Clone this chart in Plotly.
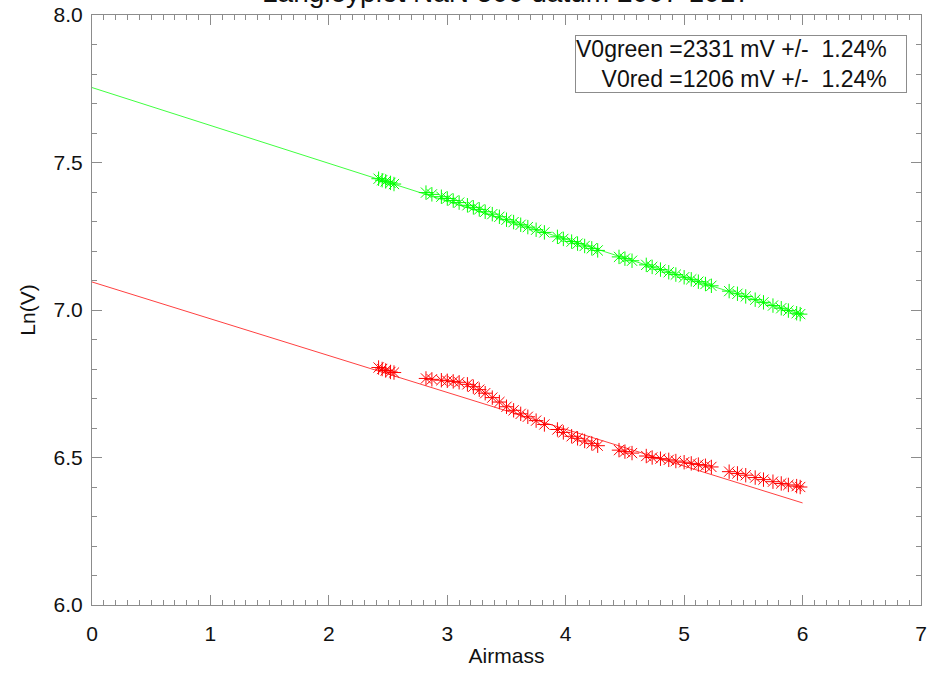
import math
import plotly.graph_objects as go

# ---- data ----
airmass = [2.42, 2.45, 2.48, 2.52, 2.55, 2.82, 2.87, 2.95, 3.00, 3.05, 3.10, 3.17, 3.22, 3.27,
           3.32, 3.38, 3.44, 3.50, 3.56, 3.62, 3.68, 3.75, 3.82, 3.93, 3.98, 4.05, 4.10, 4.16,
           4.22, 4.27, 4.45, 4.50, 4.56, 4.68, 4.73, 4.80, 4.87, 4.93, 5.00, 5.06, 5.12, 5.18,
           5.23, 5.38, 5.45, 5.52, 5.60, 5.67, 5.75, 5.82, 5.88, 5.95, 5.98]

ln_green = [7.445, 7.440, 7.436, 7.431, 7.427, 7.398, 7.392, 7.384, 7.378, 7.371, 7.364, 7.355,
            7.348, 7.341, 7.333, 7.325, 7.316, 7.306, 7.298, 7.289, 7.281, 7.272, 7.263, 7.248,
            7.241, 7.232, 7.225, 7.217, 7.209, 7.202, 7.180, 7.174, 7.167, 7.153, 7.146, 7.137,
            7.128, 7.120, 7.111, 7.104, 7.096, 7.088, 7.082, 7.064, 7.055, 7.046, 7.035, 7.026,
            7.015, 7.006, 6.998, 6.989, 6.986]

ln_red = [6.805, 6.800, 6.795, 6.790, 6.788, 6.768, 6.765, 6.762, 6.760, 6.758, 6.755, 6.748,
          6.740, 6.730, 6.718, 6.703, 6.688, 6.672, 6.660, 6.648, 6.638, 6.625, 6.612, 6.595,
          6.585, 6.572, 6.565, 6.556, 6.548, 6.540, 6.525, 6.520, 6.515, 6.505, 6.500, 6.496,
          6.492, 6.488, 6.484, 6.480, 6.476, 6.472, 6.468, 6.452, 6.446, 6.440, 6.432, 6.425,
          6.418, 6.412, 6.407, 6.403, 6.400]

fit_x = [0.0, 6.0]
v0_green = 2331
v0_red = 1206
fit_green = [math.log(v0_green), 6.983]
fit_red = [math.log(v0_red), 6.346]

title_text = "Langleyplot NaN 500 datum 2007-1017"
legend_lines = ["V0green =2331 mV +/-\u00a0\u00a01.24%\u00a0\u00a0\u00a0",
                "V0red =1206 mV +/-\u00a0\u00a01.24%\u00a0\u00a0\u00a0"]

GREEN = "rgb(0,255,0)"
RED = "rgb(255,0,0)"
FONT = "Liberation Sans, Arial, Helvetica, sans-serif"
AX = "#8c8c8c"
TXT = "#111"

fig = go.Figure()
fig.add_trace(go.Scatter(x=fit_x, y=fit_green, mode="lines",
                         line=dict(color="rgba(0,255,0,0.75)", width=1)))
fig.add_trace(go.Scatter(x=fit_x, y=fit_red, mode="lines",
                         line=dict(color="rgba(255,0,0,0.75)", width=1)))
fig.add_trace(go.Scatter(x=airmass, y=ln_green, mode="markers",
                         marker=dict(symbol="asterisk-open", size=12, color=GREEN,
                                     line=dict(color=GREEN, width=1))))
fig.add_trace(go.Scatter(x=airmass, y=ln_red, mode="markers",
                         marker=dict(symbol="asterisk-open", size=12, color=RED,
                                     line=dict(color=RED, width=1))))

axis_common = dict(showgrid=False, zeroline=False, showline=True, linecolor=AX, linewidth=1,
                   mirror="ticks", ticks="inside", tickcolor=AX, ticklen=10, tickwidth=1,
                   automargin=False,
                   tickfont=dict(family=FONT, size=21, color=TXT))

fig.update_xaxes(range=[0, 7], dtick=1, tick0=0, ticklabelstandoff=10,
                 minor=dict(dtick=0.1, ticks="inside", ticklen=5, tickcolor=AX),
                 title=dict(text="Airmass", font=dict(family=FONT, size=21, color=TXT), standoff=4),
                 **axis_common)
fig.update_yaxes(range=[6.0, 8.0], dtick=0.5, tick0=6.0, tickformat=".1f", ticklabelstandoff=4,
                 minor=dict(dtick=0.1, ticks="inside", ticklen=5, tickcolor=AX),
                 title=dict(text="Ln(V)", font=dict(family=FONT, size=21, color=TXT), standoff=12),
                 **axis_common)

fig.add_annotation(xref="paper", yref="paper", x=0.5, y=1, yanchor="bottom", yshift=5,
                   text=title_text, showarrow=False,
                   font=dict(family=FONT, size=28, color=TXT))
fig.add_annotation(xref="paper", yref="paper", x=0.983, y=0.966, xanchor="right", yanchor="top",
                   text="<br>".join(legend_lines), align="right", showarrow=False,
                   bordercolor=AX, borderwidth=1, borderpad=0, bgcolor="white",
                   font=dict(family=FONT, size=23, color=TXT))

fig.update_layout(width=934, height=673, showlegend=False,
                  paper_bgcolor="white", plot_bgcolor="white",
                  margin=dict(l=92, r=13, t=15, b=68))

fig.write_html("out.html")
